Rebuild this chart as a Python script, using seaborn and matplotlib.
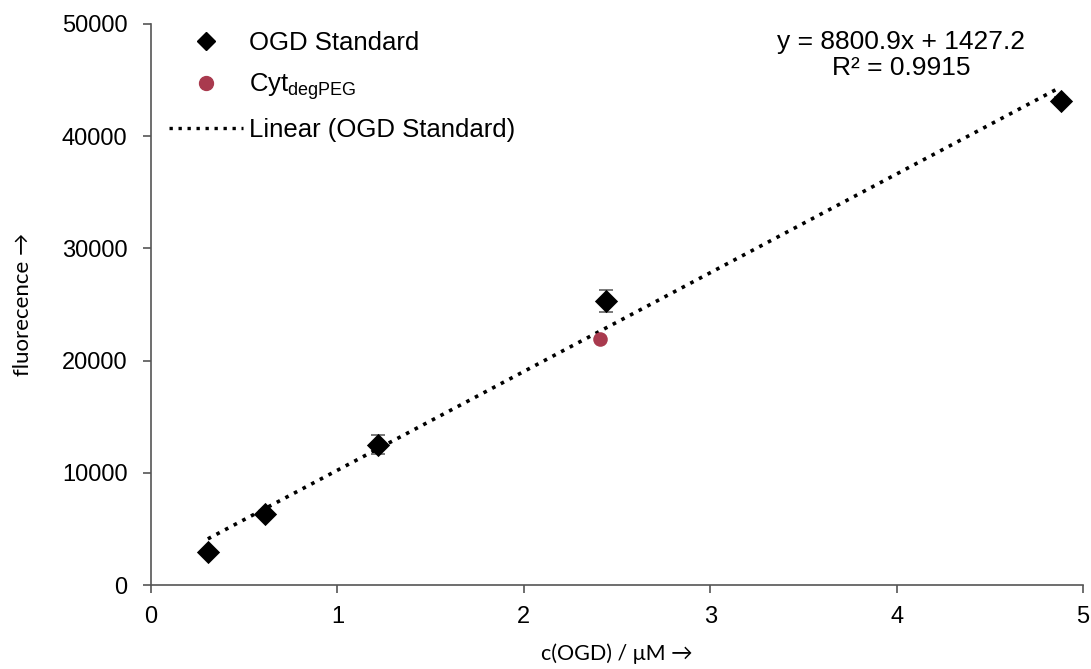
import numpy as np
import pandas as pd
import matplotlib
matplotlib.use("Agg")
import matplotlib.pyplot as plt
import seaborn as sns
from matplotlib.lines import Line2D

# data
conc_std = [0.305, 0.61, 1.22, 2.44, 4.88]
fluo_std = [2950, 6330, 12500, 25300, 43150]
err_std = [150, 300, 850, 950, 350]
conc_cyt = [2.41]
fluo_cyt = [21900]
slope = 8800.9
intercept = 1427.2
r2 = 0.9915
xticks = [0, 1, 2, 3, 4, 5]
yticks = [0, 10000, 20000, 30000, 40000, 50000]

sns.set_theme(style="white")
plt.rcParams["font.family"] = ["Liberation Sans", "DejaVu Sans"]
plt.rcParams["text.color"] = "black"
plt.rcParams["axes.labelcolor"] = "black"
plt.rcParams["mathtext.fontset"] = "custom"
plt.rcParams["mathtext.rm"] = "Liberation Sans"
plt.rcParams["mathtext.it"] = "Liberation Sans:italic"

fig = plt.figure(figsize=(10.91, 6.69), dpi=100)
ax = fig.add_axes([151 / 1091, 84 / 669, (1083 - 151) / 1091, (585 - 24) / 669])

std_df = pd.DataFrame({"c": conc_std, "f": fluo_std})
cyt_df = pd.DataFrame({"c": conc_cyt, "f": fluo_cyt})
xfit = np.array([min(conc_std), max(conc_std)])
fit_df = pd.DataFrame({"c": xfit, "f": slope * xfit + intercept})

sns.lineplot(data=fit_df, x="c", y="f", ax=ax, color="black", linestyle=(0, (1, 1.7)),
             linewidth=2.6, zorder=2)
ax.errorbar(conc_std, fluo_std, yerr=err_std, fmt="none", ecolor="#6e6e6e",
            elinewidth=1.3, capsize=5, capthick=1.3, zorder=3)
sns.scatterplot(data=std_df, x="c", y="f", ax=ax, marker="D", s=140, color="black",
                edgecolor="black", linewidth=0, zorder=4)
sns.scatterplot(data=cyt_df, x="c", y="f", ax=ax, marker="o", s=110, color="#A93A4E",
                edgecolor="#A93A4E", linewidth=0, zorder=4)

ax.set_xlim(0, 5)
ax.set_ylim(0, 50000)
ax.set_xticks(xticks)
ax.set_yticks(yticks)
ax.set_xticklabels([str(t) for t in xticks], fontsize=17)
ax.set_yticklabels([str(t) for t in yticks], fontsize=17)
for s in ["top", "right"]:
    ax.spines[s].set_visible(False)
for s in ["left", "bottom"]:
    ax.spines[s].set_color("#555555")
    ax.spines[s].set_linewidth(1.2)
ax.tick_params(axis="both", direction="out", length=6, width=1.2, color="#555555",
               bottom=True, left=True, labelcolor="black")
ax.tick_params(axis="x", pad=9)
ax.tick_params(axis="y", pad=11)

ax.set_xlabel("c(OGD) / μM →", fontsize=15.5, family=["Lato", "DejaVu Sans"], labelpad=11)
ax.set_ylabel("fluorecence →", fontsize=16, family=["Lato", "DejaVu Sans"], labelpad=21)

ax.text(0.805, 0.99, f"y = {slope}x + {intercept}\nR² = {r2}", transform=ax.transAxes,
        ha="center", va="top", fontsize=19, linespacing=1.12)

handles = [
    Line2D([], [], marker="D", color="black", linestyle="none", markersize=9),
    Line2D([], [], marker="o", color="#A93A4E", linestyle="none", markersize=10),
    Line2D([], [], color="black", linestyle=(0, (1, 1.7)), linewidth=2.4),
]
labels = ["OGD Standard", r"Cyt$_{\mathregular{degPEG}}$", "Linear (OGD Standard)"]
ax.legend(handles, labels, loc="upper left", bbox_to_anchor=(-0.006, 1.028), frameon=False,
          fontsize=18.5, handlelength=2.9, handletextpad=0.22, labelspacing=0.62)

fig.savefig("out.png", dpi=100)
